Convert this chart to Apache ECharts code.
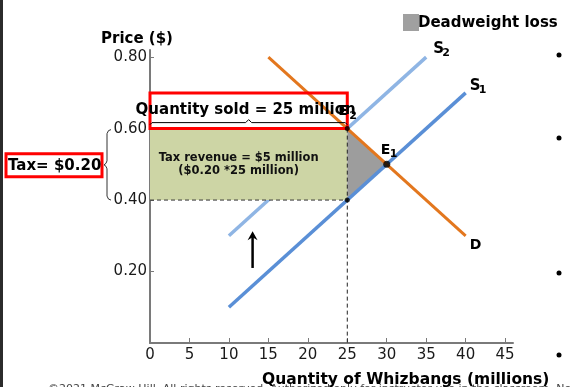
<!DOCTYPE html>
<html><head><meta charset="utf-8">
<script src="https://cdn.jsdelivr.net/npm/echarts@6/dist/echarts.min.js"></script>
<style>html,body{margin:0;padding:0;background:#fff;overflow:hidden}#c{width:570px;height:387px}</style>
</head><body><div id="c"></div>
<script>
// ---- data ----
const xTicks = [0, 5, 10, 15, 20, 25, 30, 35, 40, 45];
const yTicks = [0.2, 0.4, 0.6, 0.8];
const S1 = [[10, 0.10], [40, 0.70]];
const S2 = [[10, 0.30], [35, 0.80]];
const D = [[15, 0.80], [40, 0.30]];
const taxRevenueArea = [[0, 0.40], [25, 0.60]];
const deadweightLoss = [[25, 0.60], [30, 0.50], [25, 0.40]];
const E1 = [30, 0.50];
const E2 = [25, 0.60];
const sellerPoint = [25, 0.40];
const quantitySold = 25;
const buyerPrice = 0.60;
const sellerPrice = 0.40;
const shiftArrow = [[13, 0.21], [13, 0.31]];
const quantityBox = [[0, 0.60], [25, 0.70]];
const rightBulletsY = [55, 138, 273, 355];

const FONT = '"DejaVu Sans", sans-serif';
const chart = echarts.init(document.getElementById('c'), null, {renderer: 'canvas'});

function rectSeries(name, corners, style, z) {
  return {
    name, type: 'custom', z, silent: true,
    data: [[corners[0][0], corners[0][1], corners[1][0], corners[1][1]]],
    renderItem: (params, api) => {
      const p0 = api.coord([api.value(0), api.value(3)]);
      const p1 = api.coord([api.value(2), api.value(1)]);
      return {type: 'rect', shape: {x: p0[0], y: p0[1], width: p1[0] - p0[0], height: p1[1] - p0[1]}, style};
    }
  };
}

const option = {
  animation: false,
  backgroundColor: '#fff',
  grid: {left: 150, right: 57, top: 50, bottom: 44},
  xAxis: {
    type: 'value', min: 0, max: 46, interval: 5,
    splitLine: {show: false},
    axisLine: {lineStyle: {color: '#7a7a7a', width: 2}},
    axisTick: {inside: true, length: 5, customValues: xTicks, lineStyle: {color: '#7a7a7a', width: 1}},
    axisLabel: {customValues: xTicks, margin: 5, fontFamily: FONT, fontSize: 15, color: '#1a1a1a'}
  },
  yAxis: {
    type: 'value', min: 0, max: 0.82,
    splitLine: {show: false},
    axisLine: {show: true, lineStyle: {color: '#7a7a7a', width: 2}},
    axisTick: {show: true, inside: true, length: 4, customValues: yTicks, lineStyle: {color: '#7a7a7a', width: 1}},
    axisLabel: {customValues: yTicks, margin: 3, fontFamily: FONT, fontSize: 15, color: '#1a1a1a',
      formatter: v => v.toFixed(2)}
  },
  series: [
    {name: 'S2', type: 'line', data: S2, showSymbol: false, z: 2, lineStyle: {color: '#8fb5e4', width: 3.5}},
    rectSeries('Tax revenue', taxRevenueArea, {fill: '#cdd5a5'}, 3),
    {
      name: 'Deadweight loss', type: 'custom', z: 3, silent: true,
      data: [deadweightLoss.flat()],
      renderItem: (params, api) => {
        const pts = [];
        for (let i = 0; i < 3; i++) pts.push(api.coord([api.value(2 * i), api.value(2 * i + 1)]));
        return {type: 'polygon', shape: {points: pts}, style: {fill: '#9d9d9d'}};
      }
    },
    {name: 'S1', type: 'line', data: S1, showSymbol: false, z: 4, lineStyle: {color: '#5a8fd6', width: 3.5}},
    {name: 'D', type: 'line', data: D, showSymbol: false, z: 4, lineStyle: {color: '#e3771e', width: 3}},
    {name: 'guide1', type: 'line', data: [[0, buyerPrice], [quantitySold, buyerPrice]], showSymbol: false, z: 5,
      lineStyle: {color: '#333', width: 1, type: [4, 3]}},
    {name: 'guide2', type: 'line', data: [[0, sellerPrice], [quantitySold, sellerPrice]], showSymbol: false, z: 5,
      lineStyle: {color: '#333', width: 1, type: [4, 3]}},
    {name: 'guide3', type: 'line', data: [[quantitySold, buyerPrice], [quantitySold, 0]], showSymbol: false, z: 5,
      lineStyle: {color: '#222', width: 1, type: [4, 3]}},
    rectSeries('Quantity box', quantityBox, {fill: 'none', stroke: '#ff0000', lineWidth: 3}, 6),
    {name: 'points', type: 'scatter', z: 7, data: [
      {value: E1, symbolSize: 7},
      {value: E2, symbolSize: 5},
      {value: sellerPoint, symbolSize: 5}
    ], itemStyle: {color: '#000'}}
  ]
};
chart.setOption(option);

const px = p => chart.convertToPixel({gridIndex: 0}, p);
const bold = (text, x, y, size, extra) => Object.assign({
  type: 'text', z: 100,
  style: Object.assign({text, x, y, fontFamily: FONT, fontWeight: 'bold', fontSize: size, fill: '#000',
    textAlign: 'left', textVerticalAlign: 'middle'}, extra || {})
});
const g = [];
// left dark strip
g.push({type: 'rect', shape: {x: 0, y: 0, width: 3, height: 387}, style: {fill: '#2b2b2b'}, z: 100});
// right bullets
rightBulletsY.forEach(y => g.push({type: 'circle', shape: {cx: 559, cy: y, r: 2.5}, style: {fill: '#000'}, z: 100}));

// curve labels
const s2e = px(S2[1]), s1e = px(S1[1]), de = px(D[1]), e1 = px(E1), e2 = px(E2);
g.push(bold('S', s2e[0] + 7, s2e[1] - 8, 15));
g.push(bold('2', s2e[0] + 16, s2e[1] - 4, 11));
g.push(bold('S', s1e[0] + 4, s1e[1] - 7, 15));
g.push(bold('1', s1e[0] + 13, s1e[1] - 3, 11));
g.push(bold('D', de[0] + 4, de[1] + 10, 14));
g.push(bold('E', e1[0] - 6, e1[1] - 14, 14));
g.push(bold('1', e1[0] + 3, e1[1] - 10, 11));
g.push(bold('E', e2[0] - 9, e2[1] - 17, 14));
g.push(bold('2', e2[0] + 2, e2[1] - 12, 11));

// quantity sold text and brace
const qL = px([0, buyerPrice]), qR = px([quantitySold, buyerPrice]);
const by = qL[1] - 6, mid = (qL[0] + qR[0]) / 2;
g.push({type: 'polyline', z: 99, shape: {points: [[qL[0], by + 2], [qL[0] + 2, by], [mid - 3, by], [mid, by - 3], [mid + 3, by], [qR[0] - 2, by], [qR[0], by + 2]]},
  style: {stroke: '#000', lineWidth: 1, fill: null}});
g.push(bold('Quantity sold = 25 million', mid - 3, qL[1] - 19, 15, {textAlign: 'center'}));

// tax revenue text
const tc = px([quantitySold / 2, (buyerPrice + sellerPrice) / 2]);
g.push(bold('Tax revenue = $5 million', tc[0] - 10, tc[1] - 6, 11.5, {textAlign: 'center', fill: '#111'}));
g.push(bold('($0.20 *25 million)', tc[0] - 10, tc[1] + 7, 11.5, {textAlign: 'center', fill: '#111'}));

// tax brace and box
const pTop = px([0, buyerPrice])[1] + 1, pBot = px([0, sellerPrice])[1], pMid = (pTop + pBot) / 2;
g.push({type: 'polyline', z: 99, shape: {points: [
  [111, pTop], [108.5, pTop + 1], [107, pTop + 4], [107, pMid - 4], [106, pMid - 1.5], [104, pMid],
  [106, pMid + 1.5], [107, pMid + 4], [107, pBot - 4], [108.5, pBot - 1], [111, pBot]]},
  style: {stroke: '#333', lineWidth: 1, fill: null}});
g.push({type: 'rect', z: 99, shape: {x: 6, y: pMid - 11, width: 96, height: 23}, style: {fill: '#fff', stroke: '#ff0000', lineWidth: 3}});
g.push(bold('Tax= $0.20', 8, pMid + 1, 15));

// shift arrow
const a0 = px(shiftArrow[0]), a1 = px(shiftArrow[1]);
g.push({type: 'line', z: 99, shape: {x1: a0[0], y1: a0[1], x2: a1[0], y2: a1[1] + 4}, style: {stroke: '#000', lineWidth: 2.5}});
g.push({type: 'polygon', z: 99, shape: {points: [[a1[0], a1[1] - 1], [a1[0] - 5, a1[1] + 8], [a1[0], a1[1] + 5], [a1[0] + 5, a1[1] + 8]]}, style: {fill: '#000'}});

// legend
g.push({type: 'rect', z: 100, shape: {x: 403, y: 14, width: 16, height: 17}, style: {fill: '#a0a0a0'}});
g.push(bold('Deadweight loss', 418, 23, 15));

// axis titles
g.push(bold('Price ($)', 101, 39, 15));
g.push({type: 'text', z: 98, style: {text: '\u00a92021 McGraw Hill. All rights reserved. Authorized only for instructor use in the classroom. No reproduction or further distribution',
  x: 48, y: 389, fontFamily: FONT, fontSize: 11, fill: '#444', textVerticalAlign: 'middle'}});
g.push(bold('Quantity of Whizbangs (millions)', 262, 380, 15.5));

chart.setOption({graphic: g});
</script></body></html>
